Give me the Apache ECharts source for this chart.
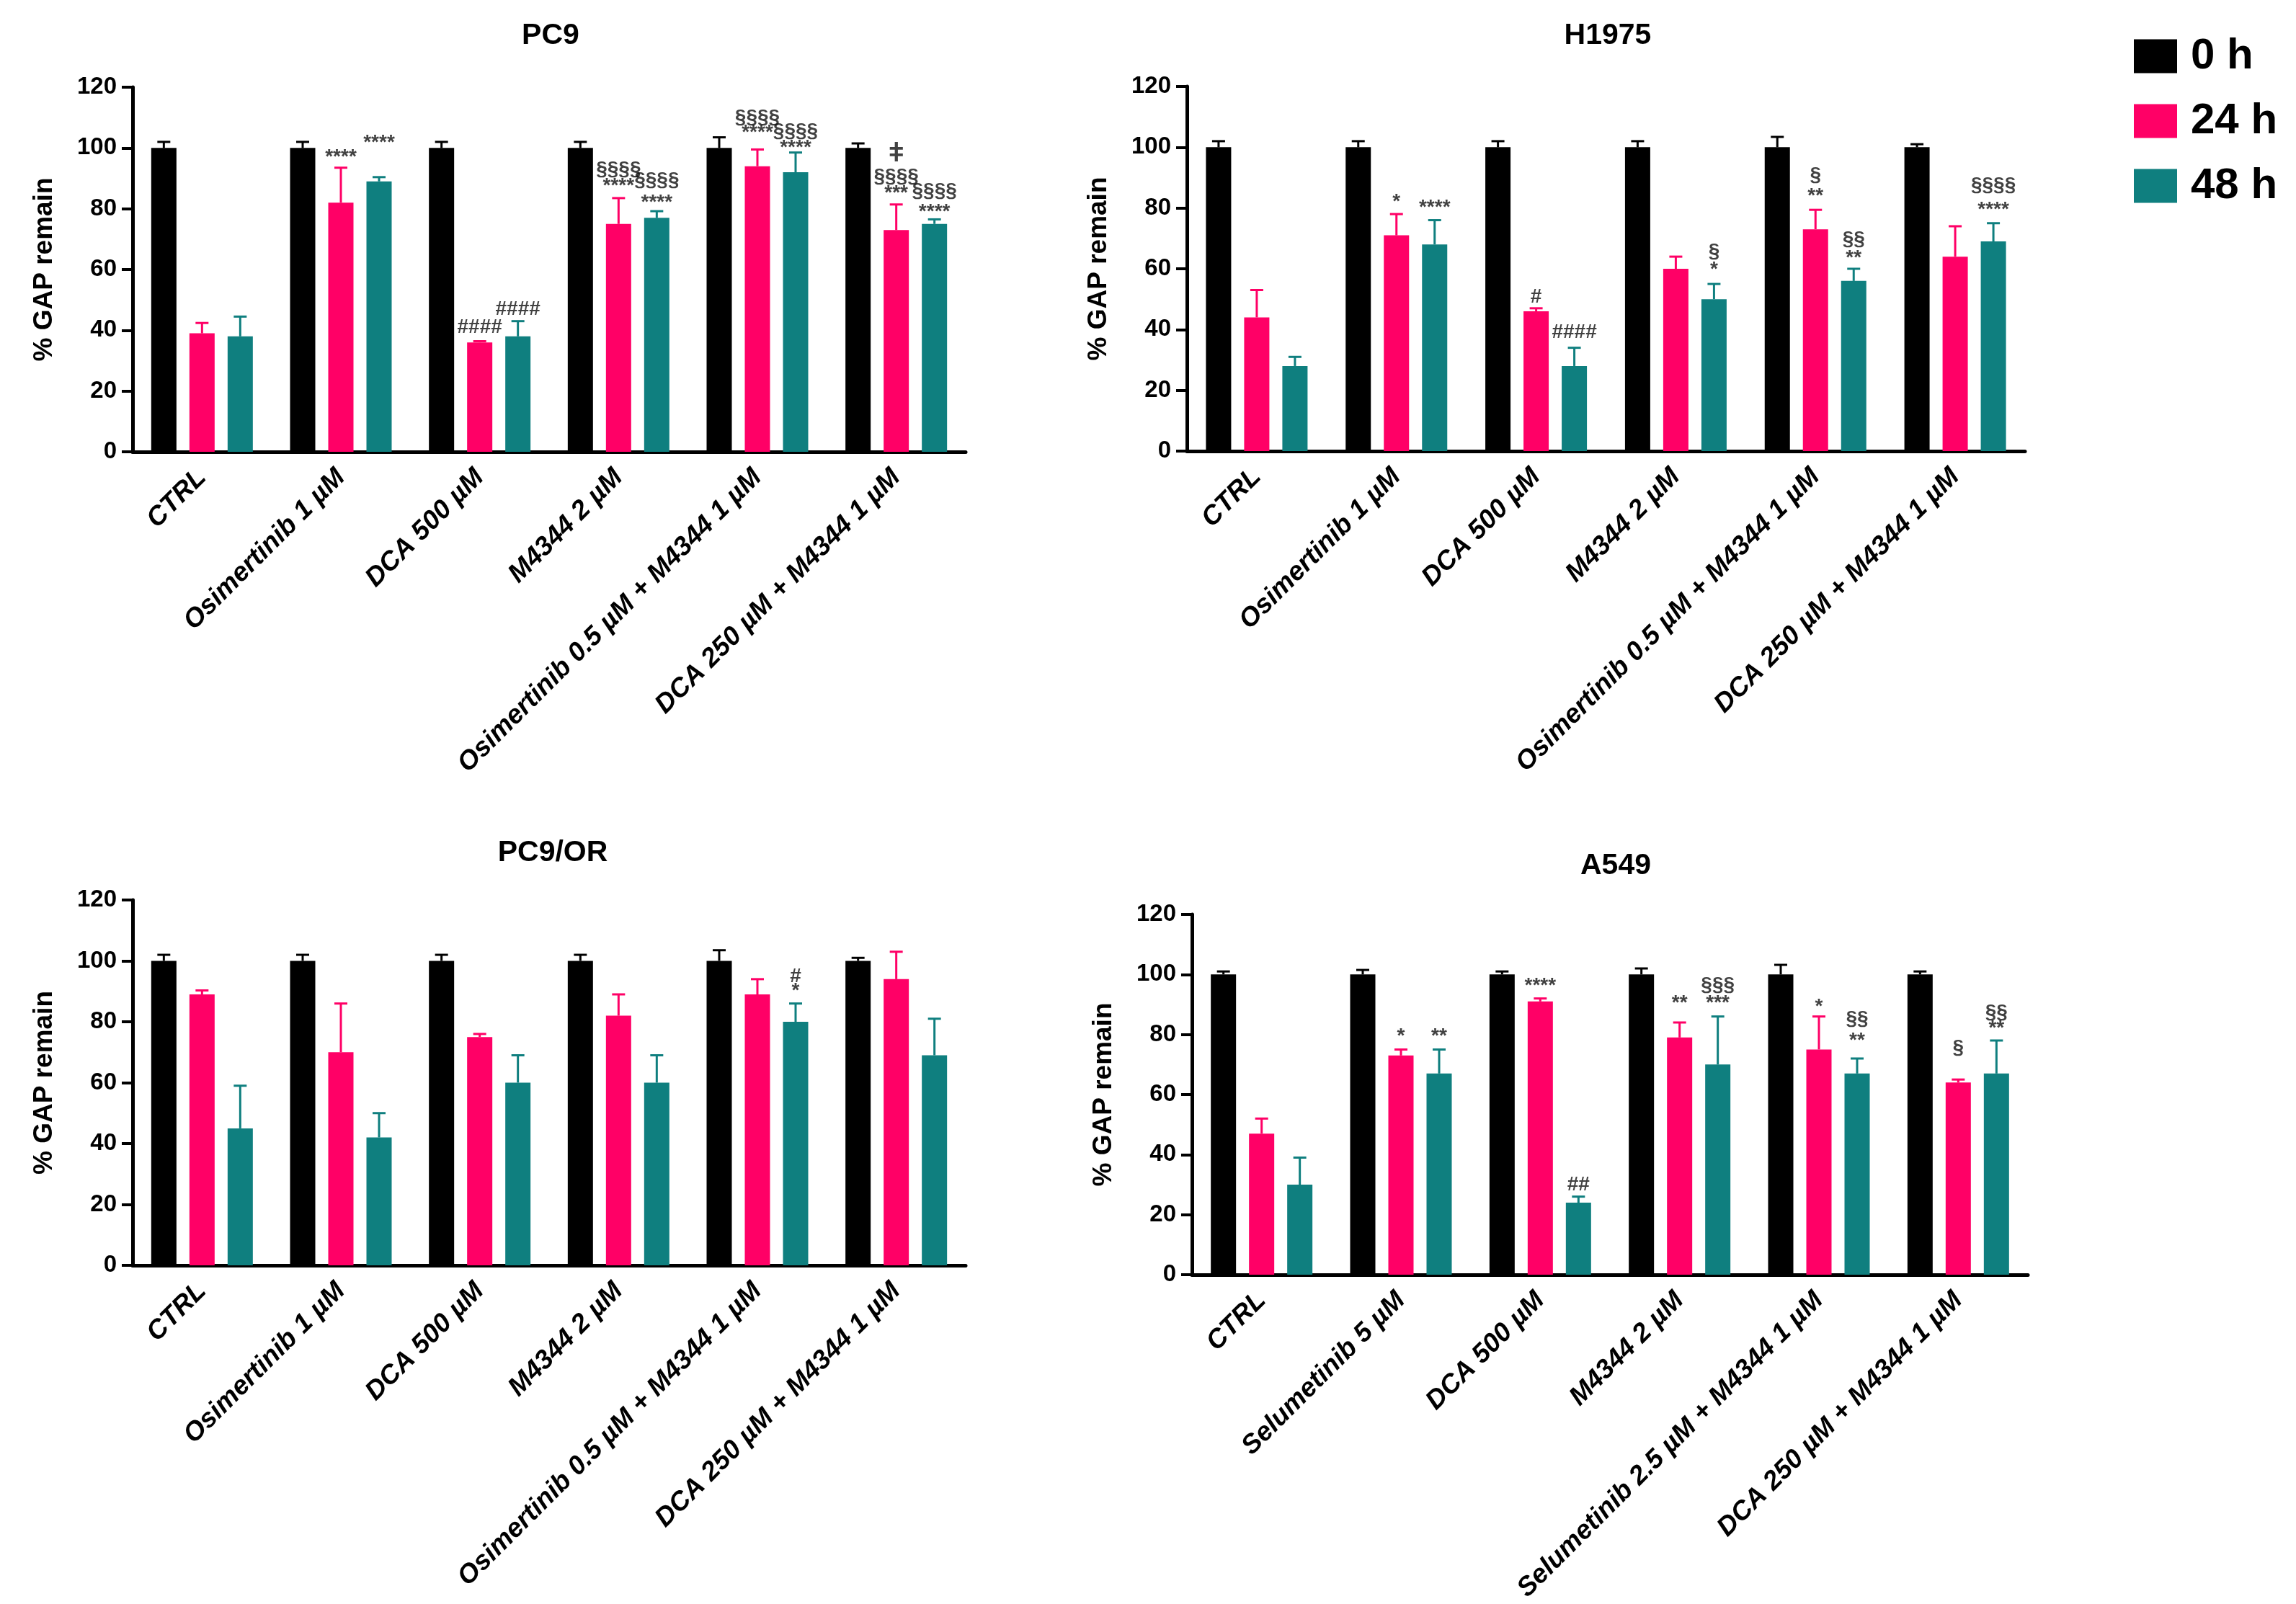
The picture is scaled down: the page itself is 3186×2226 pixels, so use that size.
<!DOCTYPE html>
<html>
<head>
<meta charset="utf-8">
<script src="https://cdn.jsdelivr.net/npm/echarts@6/dist/echarts.min.js"></script>
<style>
html,body{margin:0;padding:0;background:#fff;}
#chart{width:3186px;height:2226px;}
</style>
</head>
<body>
<div id="chart"></div>
<script>
// ---------- data ----------
const seriesNames = ['0 h', '24 h', '48 h'];
const yTicks = [0, 20, 40, 60, 80, 100, 120];

const catsOsi = ['CTRL', 'Osimertinib 1 µM', 'DCA 500 µM', 'M4344 2 µM', 'Osimertinib 0.5 µM + M4344 1 µM', 'DCA 250 µM + M4344 1 µM'];
const catsSelu = ['CTRL', 'Selumetinib 5 µM', 'DCA 500 µM', 'M4344 2 µM', 'Selumetinib 2.5 µM + M4344 1 µM', 'DCA 250 µM + M4344 1 µM'];

// PC9
const pc9_0h = [100, 100, 100, 100, 100, 100];
const pc9_0h_err = [2, 2, 2, 2, 3.5, 1.5];
const pc9_24h = [39, 82, 36, 75, 94, 73];
const pc9_24h_err = [3.4, 11.5, 0.4, 8.5, 5.5, 8.4];
const pc9_48h = [38, 89, 38, 77, 92, 75];
const pc9_48h_err = [6.5, 1.4, 5, 2.2, 6.5, 1.5];
// [category, series(0=0h,1=24h,2=48h), y, text]
const pc9_marks = [
  [1, 1, 97, '****'], [1, 2, 101.7, '****'],
  [2, 1, 41, '####'], [2, 2, 47, '####'],
  [3, 1, 93, '§§§§'], [3, 1, 87.5, '****'], [3, 2, 89.4, '§§§§'], [3, 2, 82, '****'],
  [4, 1, 110, '§§§§'], [4, 1, 105, '****'], [4, 2, 105.5, '§§§§'], [4, 2, 100, '****'],
  [5, 1, 98, 'ǂ'], [5, 1, 90.5, '§§§§'], [5, 1, 85, '***'], [5, 2, 85.7, '§§§§'], [5, 2, 79, '****']
];

// H1975
const h1975_0h = [100, 100, 100, 100, 100, 100];
const h1975_0h_err = [2, 2, 2, 2, 3.4, 1];
const h1975_24h = [44, 71, 46, 60, 73, 64];
const h1975_24h_err = [9, 7, 1, 4, 6.4, 10];
const h1975_48h = [28, 68, 28, 50, 56, 69];
const h1975_48h_err = [3, 8, 6, 5, 4, 6];
const h1975_marks = [
  [1, 1, 82, '*'], [1, 2, 80, '****'],
  [2, 1, 50.6, '#'], [2, 2, 39, '####'],
  [3, 2, 65.6, '§'], [3, 2, 59.8, '*'],
  [4, 1, 90.7, '§'], [4, 1, 83.9, '**'], [4, 2, 69.6, '§§'], [4, 2, 63.6, '**'],
  [5, 2, 87.5, '§§§§'], [5, 2, 79.4, '****']
];

// PC9/OR
const pc9or_0h = [100, 100, 100, 100, 100, 100];
const pc9or_0h_err = [2, 2, 2, 2, 3.5, 1];
const pc9or_24h = [89, 70, 75, 82, 89, 94];
const pc9or_24h_err = [1.3, 16, 1, 7, 5, 9];
const pc9or_48h = [45, 42, 60, 60, 80, 69];
const pc9or_48h_err = [14, 8, 9, 9, 6, 12];
const pc9or_marks = [
  [4, 2, 94.9, '#'], [4, 2, 90.2, '*']
];

// A549
const a549_0h = [100, 100, 100, 100, 100, 100];
const a549_0h_err = [1, 1.5, 1, 2, 3.2, 1];
const a549_24h = [47, 73, 91, 79, 75, 64];
const a549_24h_err = [5, 2, 1, 5, 11, 1];
const a549_48h = [30, 67, 24, 70, 67, 67];
const a549_48h_err = [9, 8, 2, 16, 5, 11];
const a549_marks = [
  [1, 1, 79.3, '*'], [1, 2, 79.3, '**'],
  [2, 1, 96.2, '****'], [2, 2, 29.9, '##'],
  [3, 1, 90.4, '**'], [3, 2, 96.5, '§§§'], [3, 2, 90.4, '***'],
  [4, 1, 89.2, '*'], [4, 2, 85.2, '§§'], [4, 2, 78, '**'],
  [5, 1, 75.5, '§'], [5, 2, 87.2, '§§'], [5, 2, 82, '**']
];

// ---------- styling / layout ----------
const colors = ['#000000', '#FF0066', '#0F7F7F'];
const FONT = '"Liberation Sans", Arial, Helvetica, sans-serif';
const BAR_W = 35;
const BAR_GAP = 18;
const STEP = BAR_W + BAR_GAP;

const panels = [
  { title: 'PC9', tx: 759, ty: 24, grid: { left: 184, top: 121, width: 1156, height: 506 }, cats: catsOsi,
    means: [pc9_0h, pc9_24h, pc9_48h], errs: [pc9_0h_err, pc9_24h_err, pc9_48h_err], marks: pc9_marks },
  { title: 'H1975', tx: 2226, ty: 24, grid: { left: 1647, top: 120, width: 1163, height: 506 }, cats: catsOsi,
    means: [h1975_0h, h1975_24h, h1975_48h], errs: [h1975_0h_err, h1975_24h_err, h1975_48h_err], marks: h1975_marks },
  { title: 'PC9/OR', tx: 762, ty: 1158, grid: { left: 184, top: 1249, width: 1156, height: 507 }, cats: catsOsi,
    means: [pc9or_0h, pc9or_24h, pc9or_48h], errs: [pc9or_0h_err, pc9or_24h_err, pc9or_48h_err], marks: pc9or_marks },
  { title: 'A549', tx: 2237, ty: 1176, grid: { left: 1654, top: 1269, width: 1160, height: 506 }, cats: catsSelu,
    means: [a549_0h, a549_24h, a549_48h], errs: [a549_0h_err, a549_24h_err, a549_48h_err], marks: a549_marks }
];

const option = {
  animation: false,
  backgroundColor: '#ffffff',
  textStyle: { fontFamily: FONT },
  title: [],
  legend: {
    data: seriesNames,
    orient: 'vertical',
    left: 2956, top: 43,
    itemWidth: 60, itemHeight: 47, itemGap: 30,
    icon: 'rect',
    textStyle: { fontSize: 60, fontWeight: 'bold', color: '#000', fontFamily: FONT, padding: [0, 0, 0, 14] },
    selectedMode: false
  },
  grid: [], xAxis: [], yAxis: [], series: []
};

panels.forEach((p, gi) => {
  option.title.push({
    text: p.title, left: p.tx, top: p.ty, textAlign: 'center',
    textStyle: { fontSize: 41, fontWeight: 'bold', color: '#000', fontFamily: FONT }
  });
  option.grid.push(Object.assign({ containLabel: false }, p.grid));
  option.xAxis.push({
    type: 'category', gridIndex: gi, data: p.cats,
    axisLine: { lineStyle: { color: '#000', width: 5 } },
    axisTick: { alignWithLabel: true, length: 20, lineStyle: { color: '#000', width: 4 } },
    axisLabel: { interval: 0, rotate: 45, margin: 30, fontSize: 37, fontWeight: 'bold', fontStyle: 'italic', color: '#000', fontFamily: FONT },
    splitLine: { show: false }
  });
  option.yAxis.push({
    type: 'value', gridIndex: gi, min: yTicks[0], max: yTicks[yTicks.length - 1], interval: yTicks[1] - yTicks[0],
    name: '% GAP remain', nameLocation: 'middle', nameGap: 104,
    nameTextStyle: { fontSize: 37, fontWeight: 'bold', color: '#000', fontFamily: FONT },
    axisLine: { show: true, lineStyle: { color: '#000', width: 5 } },
    axisTick: { show: true, length: 15, lineStyle: { color: '#000', width: 4 } },
    axisLabel: { fontSize: 33, fontWeight: 'bold', color: '#000', margin: 22, fontFamily: FONT },
    splitLine: { show: false }
  });
  // bars
  for (let s = 0; s < 3; s++) {
    option.series.push({
      type: 'bar', name: seriesNames[s], xAxisIndex: gi, yAxisIndex: gi,
      data: p.means[s], barWidth: BAR_W, barGap: (BAR_GAP / BAR_W * 100) + '%',
      itemStyle: { color: colors[s] }, z: 2
    });
  }
  // error bars (upper only)
  for (let s = 0; s < 3; s++) {
    const col = colors[s];
    const off = (s - 1) * STEP;
    option.series.push({
      type: 'custom', name: 'err' + gi + '_' + s, xAxisIndex: gi, yAxisIndex: gi,
      data: p.means[s].map((v, i) => [i, v, p.errs[s][i]]),
      encode: { x: 0, y: 1 },
      z: 3,
      renderItem: function (params, api) {
        const c = api.value(0), v = api.value(1), e = api.value(2);
        const p0 = api.coord([c, v]);
        const p1 = api.coord([c, v + e]);
        const x = p0[0] + off;
        return {
          type: 'group',
          children: [
            { type: 'line', shape: { x1: x, y1: p0[1], x2: x, y2: p1[1] }, style: { stroke: col, lineWidth: 3 } },
            { type: 'line', shape: { x1: x - 9, y1: p1[1], x2: x + 9, y2: p1[1] }, style: { stroke: col, lineWidth: 3 } }
          ]
        };
      }
    });
  }
  // significance marks
  option.series.push({
    type: 'scatter', name: 'marks' + gi, xAxisIndex: gi, yAxisIndex: gi,
    symbolSize: 0, z: 5, silent: true,
    data: p.marks.map(m => ({
      value: [m[0], m[2]],
      label: {
        show: true, position: 'inside', formatter: m[3], offset: [(m[1] - 1) * STEP, 0],
        fontSize: m[3] === 'ǂ' ? 36 : 28, fontWeight: 'bold', color: '#111', fontFamily: FONT
      }
    }))
  });
});

const chart = echarts.init(document.getElementById('chart'), null, { renderer: 'canvas' });
chart.setOption(option);
</script>
</body>
</html>
